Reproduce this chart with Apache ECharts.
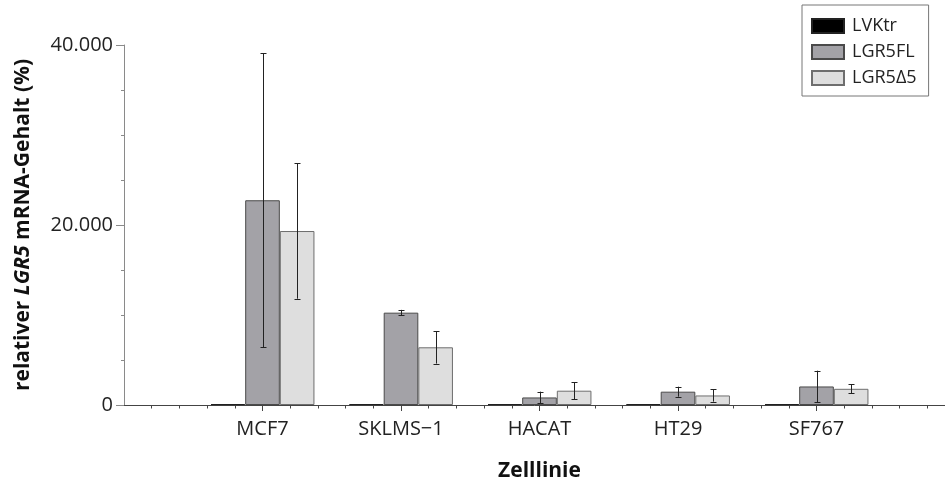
<!DOCTYPE html>
<html>
<head>
<meta charset="utf-8">
<title>LGR5 mRNA</title>
<script src="https://cdn.jsdelivr.net/npm/echarts@6/dist/echarts.min.js"></script>
<style>
  html, body { margin: 0; padding: 0; background: #fff; }
  #main { width: 945px; height: 481px; }
</style>
</head>
<body>
<div id="main"></div>
<script>
// Zelllinien (leere Plaetze links/rechts wie im Original)
var cellLines = ['MCF7', 'SKLMS\u22121', 'HACAT', 'HT29', 'SF767'];
var seriesNames = ['LVKtr', 'LGR5FL', 'LGR5\u03945'];

// Mittelwerte und Fehler
var lvktr     = [100, 100, 100, 100, 100];
var lvktrErr  = [0, 0, 0, 0, 0];
var lgr5fl    = [22750, 10260, 840, 1480, 2060];
var lgr5flErr = [16330, 310, 645, 555, 1755];
var lgr5d5    = [19330, 6410, 1590, 1060, 1800];
var lgr5d5Err = [7520, 1810, 960, 685, 500];

var colors  = ['#000000', '#a3a2a7', '#dedede'];
var borders = ['#222222', '#4a4a4a', '#6e6e6e'];

var cats = [''].concat(cellLines, ['']);
function pad(arr) { return ['-'].concat(arr, ['-']); }

var means = [lvktr, lgr5fl, lgr5d5];
var errs  = [lvktrErr, lgr5flErr, lgr5d5Err];

var errData = [];
means.forEach(function (m, k) {
  m.forEach(function (v, i) {
    if (errs[k][i] > 0) {
      errData.push([i + 1 + (k - 1) * 0.25, v - errs[k][i], v + errs[k][i]]);
    }
  });
});

function deFmt(v) {
  return String(v).replace(/\B(?=(\d{3})+(?!\d))/g, '.');
}

var myChart = echarts.init(document.getElementById('main'));

var series = seriesNames.map(function (name, k) {
  return {
    name: name,
    type: 'bar',
    xAxisIndex: 0,
    data: pad(means[k]),
    barGap: 0,
    barCategoryGap: '25%',
    itemStyle: { color: colors[k], borderColor: borders[k], borderWidth: 1 }
  };
});

series.push({
  type: 'custom',
  xAxisIndex: 1,
  yAxisIndex: 0,
  data: errData,
  z: 5,
  renderItem: function (params, api) {
    var x = api.value(0);
    var lo = api.coord([x, api.value(1)]);
    var hi = api.coord([x, api.value(2)]);
    var cx = Math.round(lo[0]) + 0.5;
    var cap = 3;
    var st = { stroke: '#222', lineWidth: 1 };
    return {
      type: 'group',
      children: [
        { type: 'line', shape: { x1: cx, y1: lo[1], x2: cx, y2: hi[1] }, style: st },
        { type: 'line', shape: { x1: cx - cap, y1: Math.round(lo[1]) + 0.5, x2: cx + cap, y2: Math.round(lo[1]) + 0.5 }, style: st },
        { type: 'line', shape: { x1: cx - cap, y1: Math.round(hi[1]) + 0.5, x2: cx + cap, y2: Math.round(hi[1]) + 0.5 }, style: st }
      ]
    };
  }
});

var option = {
  animation: false,
  textStyle: { fontFamily: 'Open Sans' },
  grid: { left: 124, right: -10, top: 45, bottom: 76, containLabel: false, outerBoundsMode: 'none' },
  legend: {
    data: seriesNames,
    orient: 'vertical',
    left: 802,
    top: 5,
    itemWidth: 32,
    itemHeight: 14,
    itemGap: 8,
    padding: [12, 12, 9, 9],
    borderColor: '#777',
    borderWidth: 1,
    backgroundColor: '#fff',
    icon: 'rect',
    textStyle: { fontSize: 18, color: '#222', padding: [0, 0, 0, 3] }
  },
  xAxis: [{
    type: 'category',
    data: cats,
    boundaryGap: false,
    axisLine: { lineStyle: { color: '#444' } },
    axisTick: {
      length: 6,
      interval: function (i) { return i > 0 && i < cats.length - 1; },
      lineStyle: { color: '#444' }
    },
    axisLabel: { interval: 0, fontSize: 20, color: '#222', margin: 14 },
    name: 'Zelllinie',
    nameLocation: 'middle',
    nameGap: 56,
    nameTextStyle: { fontSize: 21, fontWeight: 'bold', color: '#111' }
  }, {
    type: 'value',
    position: 'bottom',
    min: 0,
    max: cats.length - 1,
    interval: 1,
    axisLine: { show: false },
    axisTick: { show: false },
    axisLabel: { show: false },
    splitLine: { show: false },
    minorTick: { show: true, splitNumber: 5, length: 3.5, lineStyle: { color: '#444' } }
  }],
  yAxis: {
    type: 'value',
    min: 0,
    max: 40000,
    interval: 20000,
    axisLine: { show: true, lineStyle: { color: '#8a8a8a' } },
    axisTick: { show: true, length: 8, lineStyle: { color: '#8a8a8a' } },
    minorTick: { show: true, splitNumber: 4, length: 3, lineStyle: { color: '#8a8a8a' } },
    splitLine: { show: false },
    axisLabel: { fontSize: 20, color: '#222', margin: 11, formatter: deFmt },
    name: 'relativer {i|LGR5} mRNA-Gehalt (%)',
    nameLocation: 'middle',
    nameGap: 90,
    nameTextStyle: {
      fontSize: 21, fontWeight: 'bold', color: '#111',
      rich: { i: { fontSize: 21, fontWeight: 'bold', fontStyle: 'italic', color: '#111' } }
    }
  },
  series: series
};

myChart.setOption(option);
</script>
</body>
</html>
